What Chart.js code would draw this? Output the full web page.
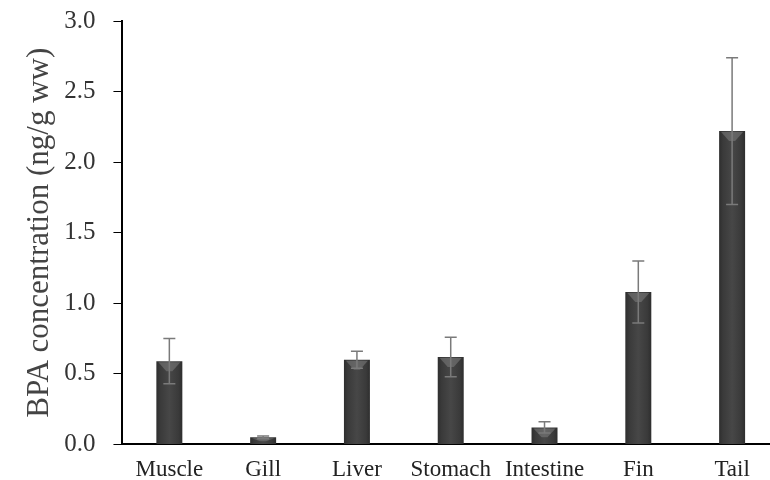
<!DOCTYPE html>
<html>
<head>
<meta charset="utf-8">
<script src="https://cdn.jsdelivr.net/npm/chart.js@4.4.0/dist/chart.umd.min.js"></script>
<style>
  html, body { margin: 0; padding: 0; background: #fff; overflow: hidden; }
  #wrap { width: 781px; height: 508px; margin-top: -12px; }
</style>
</head>
<body>
<div id="wrap"><canvas id="bpaChart"></canvas></div>
<script>
var tissues = ["Muscle", "Gill", "Liver", "Stomach", "Intestine", "Fin", "Tail"];
var bpaMean = [0.59, 0.05, 0.60, 0.62, 0.12, 1.08, 2.22];
var bpaErr = [0.16, 0.01, 0.06, 0.14, 0.04, 0.22, 0.52];
var yTicks = [0.0, 0.5, 1.0, 1.5, 2.0, 2.5, 3.0];

// error bars drawn over the bars, using the chart's own scales
var errorBars = {
	id: 'errorBars',
	afterDatasetsDraw: function(chart) {
		var ctx = chart.ctx;
		var y = chart.scales.y;
		var meta = chart.getDatasetMeta(0);
		ctx.save();
		meta.data.forEach(function(bar, i) {
			var hi = y.getPixelForValue(bpaMean[i] + bpaErr[i]);
			var lo = y.getPixelForValue(bpaMean[i] - bpaErr[i]);
			var w = bar.width;
			// light bevel at the top of the bar
			ctx.fillStyle = 'rgba(140,140,140,0.45)';
			ctx.beginPath();
			ctx.moveTo(bar.x - w / 2 + 2, bar.y + 1);
			ctx.lineTo(bar.x + w / 2 - 2, bar.y + 1);
			ctx.lineTo(bar.x + 3, bar.y + Math.min(10, (bar.base - bar.y) * 0.6));
			ctx.lineTo(bar.x - 3, bar.y + Math.min(10, (bar.base - bar.y) * 0.6));
			ctx.closePath();
			ctx.fill();

			ctx.strokeStyle = '#7a7a7a';
			ctx.lineWidth = 1.5;
			ctx.beginPath();
			ctx.moveTo(bar.x, hi);
			ctx.lineTo(bar.x, lo);
			ctx.moveTo(bar.x - 6, hi);
			ctx.lineTo(bar.x + 6, hi);
			ctx.moveTo(bar.x - 6, lo);
			ctx.lineTo(bar.x + 6, lo);
			ctx.stroke();
		});
		ctx.restore();
	}
};

function barFill(context) {
	var chart = context.chart;
	var xs = chart.scales.x;
	if (!xs || context.dataIndex === undefined) return '#3c3c3c';
	var cx = xs.getPixelForValue(context.dataIndex);
	if (!isFinite(cx)) return '#3c3c3c';
	var g = chart.ctx.createLinearGradient(cx - 13, 0, cx + 13, 0);
	g.addColorStop(0, '#2e2e2e');
	g.addColorStop(0.15, '#3a3a3a');
	g.addColorStop(0.5, '#474747');
	g.addColorStop(0.85, '#3a3a3a');
	g.addColorStop(1, '#2e2e2e');
	return g;
}

var serif = "'Liberation Serif', 'Times New Roman', serif";

new Chart(document.getElementById('bpaChart'), {
	type: 'bar',
	data: {
		labels: tissues,
		datasets: [{
			label: 'BPA',
			data: bpaMean,
			backgroundColor: barFill,
			borderWidth: 0,
			barPercentage: 0.277,
			categoryPercentage: 1.0
		}]
	},
	options: {
		responsive: true,
		maintainAspectRatio: false,
		animation: false,
		layout: { padding: { top: 0, left: 21, right: 2, bottom: 0 } },
		plugins: {
			legend: { display: false },
			tooltip: { enabled: false }
		},
		scales: {
			x: {
				grid: { display: false, drawTicks: false },
				border: { color: '#000', width: 2 },
				ticks: { color: '#222', font: { family: serif, size: 23 }, padding: 12, maxRotation: 0 }
			},
			y: {
				min: 0,
				max: 3,
				afterBuildTicks: function(axis) {
					axis.ticks = yTicks.map(function(v) { return { value: v }; });
				},
				grid: { drawOnChartArea: false, drawTicks: true, tickLength: 9, color: '#000', tickWidth: 1 },
				border: { color: '#000', width: 2 },
				ticks: {
					color: '#333',
					font: { family: serif, size: 25 },
					padding: 18,
					callback: function(v) { return Number(v).toFixed(1); }
				},
				title: {
					display: true,
					text: 'BPA concentration (ng/g ww)',
					color: '#444',
					font: { family: serif, size: 31 },
					padding: { top: 0, bottom: -12 }
				}
			}
		}
	},
	plugins: [errorBars]
});
</script>
</body>
</html>
